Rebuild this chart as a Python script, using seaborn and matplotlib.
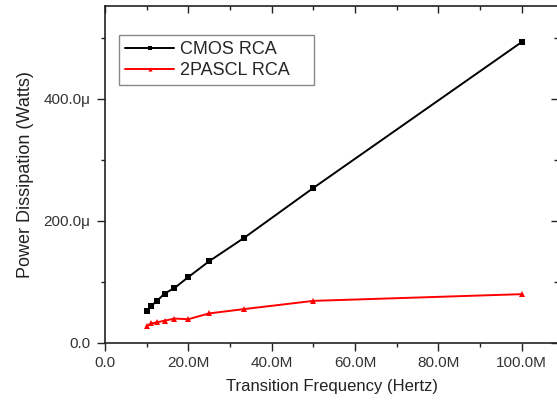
import matplotlib
matplotlib.use("Agg")
import matplotlib.pyplot as plt
import seaborn as sns
import pandas as pd

# Data (frequency in MHz, power in microwatts)
freq_mhz = [10.0, 11.11, 12.5, 14.29, 16.67, 20.0, 25.0, 33.33, 50.0, 100.0]
cmos_uw = [53, 61, 69, 81, 90, 108, 134, 172, 254, 493]
pascl_uw = [28, 32, 34, 36.5, 40, 39, 48.5, 55.5, 69, 80]
series_names = ["CMOS RCA", "2PASCL RCA"]

x_ticks = [0, 20, 40, 60, 80, 100]
x_ticklabels = ["0.0", "20.0M", "40.0M", "60.0M", "80.0M", "100.0M"]
y_ticks = [0, 200, 400]
y_ticklabels = ["0.0", "200.0\u03bc", "400.0\u03bc"]

sns.set_style("white")
plt.rcParams['font.family'] = ['Liberation Sans', 'DejaVu Sans']

df = pd.DataFrame({
    "freq": freq_mhz * 2,
    "power": cmos_uw + pascl_uw,
    "series": [series_names[0]] * len(freq_mhz) + [series_names[1]] * len(freq_mhz),
})

fig = plt.figure(figsize=(5.57, 4.05), dpi=100)
ax = fig.add_axes([105 / 557, (405 - 343) / 405, (558 - 105) / 557, (343 - 6) / 405])

sns.lineplot(data=df, x="freq", y="power", hue="series", style="series",
             palette={series_names[0]: "#000000", series_names[1]: "#ff0000"},
             markers={series_names[0]: "s", series_names[1]: "^"},
             dashes=False, markersize=4, markeredgewidth=0, linewidth=1.4,
             ax=ax, legend=True)

ax.set_xlim(0, 108.7)
ax.set_ylim(0, 552)

ax.set_xticks(x_ticks)
ax.set_xticklabels(x_ticklabels)
ax.set_yticks(y_ticks)
ax.set_yticklabels(y_ticklabels)
ax.set_xticks([10, 30, 50, 70, 90], minor=True)
ax.set_yticks([100, 300, 500], minor=True)

for s in ax.spines.values():
    s.set_visible(True)
    s.set_color("#222222")
    s.set_linewidth(1.2)

ax.tick_params(axis="both", which="major", direction="out", length=6, width=1.0,
               color="#222222", labelsize=11, labelcolor="#333333")
ax.tick_params(axis="x", which="major", pad=3.5)
ax.tick_params(axis="y", which="major", pad=4.5)
ax.tick_params(axis="both", which="minor", direction="out", length=3, width=1.0,
               color="#222222")
ax.tick_params(bottom=True, left=True, which="both")

secx = ax.secondary_xaxis("top")
secx.set_xticks(x_ticks)
secx.set_xticks([10, 30, 50, 70, 90], minor=True)
secx.tick_params(which="major", direction="in", length=5, width=1.0, color="#222222", labeltop=False)
secx.tick_params(which="minor", direction="in", length=3, width=1.0, color="#222222")
secx.spines["top"].set_visible(False)

secy = ax.secondary_yaxis("right")
secy.set_yticks(y_ticks)
secy.set_yticks([100, 300, 500], minor=True)
secy.tick_params(which="major", direction="in", length=5, width=1.0, color="#222222", labelright=False)
secy.tick_params(which="minor", direction="in", length=3, width=1.0, color="#222222")
secy.spines["right"].set_visible(False)

ax.set_xlabel("Transition Frequency (Hertz)", fontsize=12, color="#222222", labelpad=6.5)
ax.set_ylabel("Power Dissipation (Watts)", fontsize=13, color="#222222", labelpad=7)

handles, labels = ax.get_legend_handles_labels()
for h in handles:
    h.set_markersize(3)
leg = ax.legend(handles, labels, loc="upper left",
                bbox_to_anchor=(0.031, 0.914 - 0.14, 0.4305, 0.14),
                mode="expand",
                fontsize=13, frameon=True, fancybox=False, shadow=False,
                edgecolor="#888888", framealpha=1, handlelength=2.7,
                handletextpad=0.35, labelspacing=0.2, borderpad=0.35,
                borderaxespad=0)
leg.get_frame().set_linewidth(1.0)

fig.savefig("out.png", dpi=100)
